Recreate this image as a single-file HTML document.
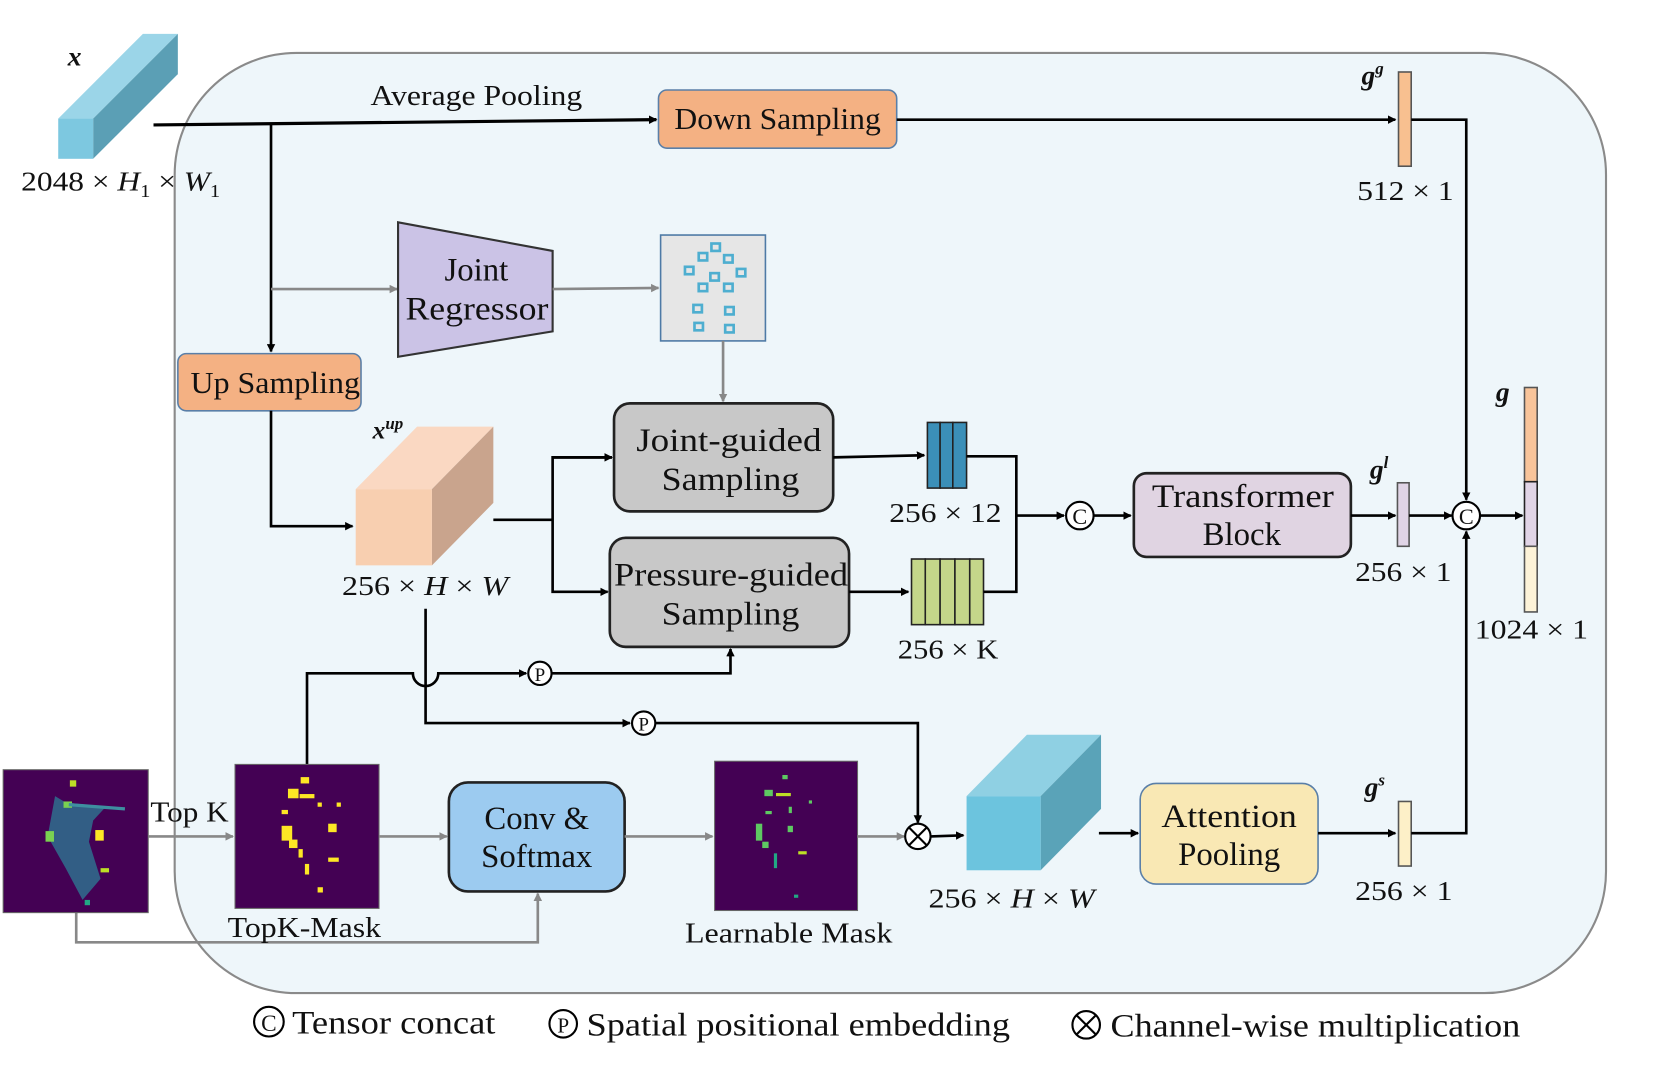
<!DOCTYPE html>
<html><head><meta charset="utf-8"><style>
html,body{margin:0;padding:0;background:#fff;width:1660px;height:1069px;overflow:hidden}
svg{display:block}
text{font-family:"Liberation Serif",serif;fill:#111}
</style></head><body>
<svg width="1660" height="1069" viewBox="0 0 1568 1009.7" preserveAspectRatio="none" xmlns="http://www.w3.org/2000/svg">
<defs>
<marker id="ab" markerWidth="8" markerHeight="8" refX="7" refY="4" orient="auto" markerUnits="userSpaceOnUse"><path d="M0,0 L8,4 L0,8 z" fill="#000"/></marker>
<marker id="ag" markerWidth="8" markerHeight="8" refX="7" refY="4" orient="auto" markerUnits="userSpaceOnUse"><path d="M0,0 L8,4 L0,8 z" fill="#888"/></marker>
</defs>
<rect x="165" y="50" width="1352" height="888" rx="115" fill="#eef6fa" stroke="#8a8a8a" stroke-width="2"/>

<polygon points="55,112 88,112 168,32 135,32" fill="#9bd5e8"/>
<polygon points="88,112 168,32 168,70 88,150" fill="#5b9fb5"/>
<rect x="55" y="112" width="33" height="38" fill="#7dc8e0"/>
<text x="64" y="62" font-size="26" font-weight="bold" font-style="italic">x</text>
<text x="20" y="180" font-size="26" textLength="188" lengthAdjust="spacingAndGlyphs">2048 × <tspan font-style="italic">H</tspan><tspan font-size="17" dy="6">1</tspan><tspan dy="-6"> × </tspan><tspan font-style="italic">W</tspan><tspan font-size="17" dy="6">1</tspan></text>

<line x1="145" y1="118" x2="620" y2="113" stroke="#000" stroke-width="3" marker-end="url(#ab)"/>
<text x="350" y="99" font-size="27" textLength="200" lengthAdjust="spacingAndGlyphs">Average Pooling</text>
<rect x="622" y="85" width="225" height="55" rx="8" fill="#f4b183" stroke="#5a7fa8" stroke-width="1.5"/>
<text x="637" y="122" font-size="29" textLength="195" lengthAdjust="spacingAndGlyphs">Down Sampling</text>
<line x1="847" y1="113" x2="1318" y2="113" stroke="#000" stroke-width="2.5" marker-end="url(#ab)"/>
<rect x="1321" y="68" width="12" height="89" fill="#f8c090" stroke="#555" stroke-width="1.5"/>
<text x="1286" y="80" font-size="26" font-weight="bold" font-style="italic">g<tspan font-size="16" dy="-10">g</tspan></text>
<text x="1282" y="189" font-size="26" textLength="91" lengthAdjust="spacingAndGlyphs">512 × 1</text>
<polyline points="1333,113 1385,113 1385,472" fill="none" stroke="#000" stroke-width="2.5" marker-end="url(#ab)"/>

<line x1="256" y1="118" x2="256" y2="332" stroke="#000" stroke-width="2.5" marker-end="url(#ab)"/>
<line x1="256" y1="273" x2="375" y2="273" stroke="#888" stroke-width="2.5" marker-end="url(#ag)"/>
<polygon points="376,210 522,237 522,313 376,337" fill="#cbc3e6" stroke="#333" stroke-width="2"/>
<text x="450" y="265" font-size="31" text-anchor="middle">Joint</text>
<text x="383" y="302" font-size="31" textLength="135" lengthAdjust="spacingAndGlyphs">Regressor</text>
<line x1="522" y1="273" x2="622" y2="272" stroke="#888" stroke-width="2.5" marker-end="url(#ag)"/>
<rect x="624" y="222" width="99" height="100" fill="#e6e6e6" stroke="#4e7aa6" stroke-width="1.5"/>
<g fill="none" stroke="#4eaed0" stroke-width="2.5">
<rect x="672" y="230" width="8" height="7"/><rect x="660" y="239" width="8" height="7"/><rect x="684" y="241" width="8" height="7"/>
<rect x="647" y="252" width="8" height="7"/><rect x="671" y="258" width="8" height="7"/><rect x="696" y="254" width="8" height="7"/>
<rect x="660" y="268" width="8" height="7"/><rect x="684" y="268" width="8" height="7"/>
<rect x="655" y="288" width="8" height="7"/><rect x="685" y="290" width="8" height="7"/>
<rect x="656" y="305" width="8" height="7"/><rect x="685" y="307" width="8" height="7"/>
</g>
<line x1="683" y1="322" x2="683" y2="379" stroke="#888" stroke-width="2.5" marker-end="url(#ag)"/>

<rect x="168" y="334" width="173" height="54" rx="8" fill="#f4b183" stroke="#5a7fa8" stroke-width="1.5"/>
<text x="180" y="371" font-size="29" textLength="160" lengthAdjust="spacingAndGlyphs">Up Sampling</text>
<polyline points="256,388 256,497 333,497" fill="none" stroke="#000" stroke-width="2.5" marker-end="url(#ab)"/>

<polygon points="336,462 408,462 466,403 394,403" fill="#fad8c2"/>
<polygon points="408,462 466,403 466,475 408,534" fill="#c9a48d"/>
<rect x="336" y="462" width="72" height="72" fill="#f8cfb0"/>
<text x="352" y="414" font-size="24" font-weight="bold" font-style="italic">x<tspan font-size="16" dy="-9">up</tspan></text>
<text x="323" y="562" font-size="26" textLength="157" lengthAdjust="spacingAndGlyphs">256 × <tspan font-style="italic">H</tspan> × <tspan font-style="italic">W</tspan></text>

<line x1="466" y1="491" x2="522" y2="491" stroke="#000" stroke-width="2.5"/>
<polyline points="578,432 522,432 522,559 574,559" fill="none" stroke="#000" stroke-width="2.5" marker-end="url(#ab)"/>
<line x1="522" y1="432" x2="578" y2="432" stroke="#000" stroke-width="2.5" marker-end="url(#ab)"/>
<rect x="580" y="381" width="207" height="102" rx="15" fill="#c8c8c8" stroke="#222" stroke-width="2.5"/>
<text x="601" y="426" font-size="31" textLength="175" lengthAdjust="spacingAndGlyphs">Joint-guided</text>
<text x="625" y="463" font-size="31" textLength="130" lengthAdjust="spacingAndGlyphs">Sampling</text>
<rect x="576" y="508" width="226" height="103" rx="15" fill="#c8c8c8" stroke="#222" stroke-width="2.5"/>
<text x="580" y="553" font-size="31" textLength="221" lengthAdjust="spacingAndGlyphs">Pressure-guided</text>
<text x="625" y="590" font-size="31" textLength="130" lengthAdjust="spacingAndGlyphs">Sampling</text>

<line x1="787" y1="432" x2="873" y2="430" stroke="#000" stroke-width="2.5" marker-end="url(#ab)"/>
<g fill="#3b8fb8" stroke="#222" stroke-width="1.5">
<rect x="876" y="399" width="12" height="62"/><rect x="888" y="399" width="12" height="62"/><rect x="900" y="399" width="13" height="62"/></g>
<text x="840" y="493" font-size="26" textLength="106" lengthAdjust="spacingAndGlyphs">256 × 12</text>
<line x1="802" y1="559" x2="858" y2="559" stroke="#000" stroke-width="2.5" marker-end="url(#ab)"/>
<g fill="#c4d68a" stroke="#222" stroke-width="1.5">
<rect x="861" y="528" width="13" height="62"/><rect x="874" y="528" width="14" height="62"/><rect x="888" y="528" width="14" height="62"/><rect x="902" y="528" width="14" height="62"/><rect x="916" y="528" width="13" height="62"/></g>
<text x="848" y="622" font-size="26" textLength="95" lengthAdjust="spacingAndGlyphs">256 × K</text>
<polyline points="913,431 960,431 960,559 929,559" fill="none" stroke="#000" stroke-width="2.5"/>
<line x1="960" y1="487" x2="1005" y2="487" stroke="#000" stroke-width="2.5" marker-end="url(#ab)"/>
<circle cx="1020" cy="487" r="13" fill="#fff" stroke="#000" stroke-width="2"/>
<text x="1020" y="495" font-size="21" text-anchor="middle">C</text>
<line x1="1033" y1="487" x2="1068" y2="487" stroke="#000" stroke-width="2.5" marker-end="url(#ab)"/>
<rect x="1071" y="447" width="205" height="79" rx="12" fill="#e0d4e2" stroke="#222" stroke-width="2.5"/>
<text x="1088" y="479" font-size="31" textLength="172" lengthAdjust="spacingAndGlyphs">Transformer</text>
<text x="1173" y="515" font-size="31" text-anchor="middle">Block</text>
<line x1="1276" y1="487" x2="1318" y2="487" stroke="#000" stroke-width="2.5" marker-end="url(#ab)"/>
<rect x="1320" y="456" width="11" height="60" fill="#e0d4e6" stroke="#555" stroke-width="1.5"/>
<text x="1294" y="452" font-size="26" font-weight="bold" font-style="italic">g<tspan font-size="16" dy="-10">l</tspan></text>
<text x="1280" y="549" font-size="26" textLength="91" lengthAdjust="spacingAndGlyphs">256 × 1</text>
<line x1="1331" y1="487" x2="1371" y2="487" stroke="#000" stroke-width="2.5" marker-end="url(#ab)"/>
<circle cx="1385" cy="487" r="13" fill="#fff" stroke="#000" stroke-width="2"/>
<text x="1385" y="495" font-size="21" text-anchor="middle">C</text>
<line x1="1398" y1="487" x2="1438" y2="487" stroke="#000" stroke-width="2.5" marker-end="url(#ab)"/>
<rect x="1440" y="366" width="12" height="89" fill="#f8c49a" stroke="#555" stroke-width="1.5"/>
<rect x="1440" y="455" width="12" height="61" fill="#e0d4e6" stroke="#222" stroke-width="1.5"/>
<rect x="1440" y="516" width="12" height="62" fill="#fdf3d8" stroke="#555" stroke-width="1.5"/>
<text x="1413" y="379" font-size="26" font-weight="bold" font-style="italic">g</text>
<text x="1393" y="603" font-size="26" textLength="107" lengthAdjust="spacingAndGlyphs">1024 × 1</text>

<polyline points="402,575 402,683 595,683" fill="none" stroke="#000" stroke-width="2.5" marker-end="url(#ab)"/>
<circle cx="608" cy="683" r="11" fill="#fff" stroke="#000" stroke-width="2"/>
<text x="608" y="690" font-size="18" text-anchor="middle">P</text>
<polyline points="619,683 867,683 867,777" fill="none" stroke="#000" stroke-width="2.5" marker-end="url(#ab)"/>
<path d="M290,722 L290,636 L390,636 A12,12 0 0 0 414,636 L497,636" fill="none" stroke="#000" stroke-width="2.5" marker-end="url(#ab)"/>
<circle cx="510" cy="636" r="11" fill="#fff" stroke="#000" stroke-width="2"/>
<text x="510" y="643" font-size="18" text-anchor="middle">P</text>
<polyline points="521,636 690,636 690,613" fill="none" stroke="#000" stroke-width="2.5" marker-end="url(#ab)"/>

<polyline points="72,862 72,890 508,890 508,844" fill="none" stroke="#888" stroke-width="2.5" marker-end="url(#ag)"/>
<rect x="3" y="727" width="137" height="135" fill="#440154" stroke="#666" stroke-width="1"/>
<g>
<path d="M52,752 L62,758 L100,762 L88,775 L84,795 L95,830 L78,850 L62,820 L45,790 Z" fill="#2f6e8e" opacity="0.85"/>
<rect x="66" y="737" width="6" height="6" fill="#bddf26"/><rect x="60" y="757" width="8" height="6" fill="#7ad151"/>
<rect x="43" y="785" width="8" height="10" fill="#7ad151"/><rect x="90" y="784" width="8" height="10" fill="#fde725"/>
<rect x="95" y="820" width="8" height="4" fill="#bddf26"/><rect x="80" y="850" width="5" height="5" fill="#22a884"/>
<line x1="65" y1="760" x2="118" y2="764" stroke="#3e8fa0" stroke-width="3"/>
</g>
<line x1="140" y1="790" x2="220" y2="790" stroke="#888" stroke-width="2.5" marker-end="url(#ag)"/>
<text x="142" y="776" font-size="27" textLength="74" lengthAdjust="spacingAndGlyphs">Top K</text>
<rect x="222" y="722" width="136" height="136" fill="#440154" stroke="#666" stroke-width="1"/>
<g fill="#fde725">
<rect x="284" y="734" width="8" height="6"/><rect x="272" y="745" width="10" height="9"/><rect x="283" y="750" width="14" height="4"/>
<rect x="266" y="780" width="10" height="14"/><rect x="273" y="793" width="8" height="8"/><rect x="310" y="778" width="8" height="8"/>
<rect x="266" y="765" width="6" height="4"/><rect x="300" y="758" width="4" height="4"/><rect x="318" y="758" width="4" height="4"/>
<rect x="282" y="802" width="4" height="8"/><rect x="288" y="816" width="4" height="10"/><rect x="310" y="810" width="10" height="4"/><rect x="300" y="838" width="5" height="5"/></g>
<line x1="358" y1="790" x2="422" y2="790" stroke="#888" stroke-width="2.5" marker-end="url(#ag)"/>
<rect x="424" y="739" width="166" height="103" rx="18" fill="#9ccbf0" stroke="#222" stroke-width="2.5"/>
<text x="507" y="783" font-size="31" text-anchor="middle">Conv &amp;</text>
<text x="507" y="819" font-size="31" text-anchor="middle">Softmax</text>
<line x1="590" y1="790" x2="673" y2="790" stroke="#888" stroke-width="2.5" marker-end="url(#ag)"/>
<rect x="675" y="719" width="135" height="141" fill="#440154" stroke="#666" stroke-width="1"/>
<g fill="#5ec962">
<rect x="739" y="732" width="5" height="4"/><rect x="722" y="746" width="8" height="6"/><rect x="733" y="749" width="14" height="3" fill="#bddf26"/>
<rect x="723" y="766" width="6" height="3"/><rect x="714" y="778" width="6" height="16"/><rect x="720" y="795" width="6" height="6"/>
<rect x="744" y="780" width="5" height="6"/><rect x="731" y="806" width="3" height="14" fill="#22a884"/><rect x="754" y="804" width="8" height="3" fill="#bddf26"/><rect x="750" y="845" width="4" height="3" fill="#22a884"/>
<rect x="764" y="756" width="3" height="3"/><rect x="745" y="762" width="3" height="6"/></g>
<line x1="810" y1="790" x2="854" y2="790" stroke="#888" stroke-width="2.5" marker-end="url(#ag)"/>
<circle cx="867" cy="790" r="12" fill="#fff" stroke="#000" stroke-width="2"/>
<path d="M859,782 L875,798 M875,782 L859,798" stroke="#000" stroke-width="2"/>
<line x1="879" y1="790" x2="910" y2="789" stroke="#000" stroke-width="2.5" marker-end="url(#ab)"/>
<polygon points="913,752 983,752 1040,694 970,694" fill="#8fd0e3"/>
<polygon points="983,752 1040,694 1040,764 983,822" fill="#5aa3b8"/>
<rect x="913" y="752" width="70" height="70" fill="#6cc4de"/>
<text x="877" y="857" font-size="26" textLength="157" lengthAdjust="spacingAndGlyphs">256 × <tspan font-style="italic">H</tspan> × <tspan font-style="italic">W</tspan></text>
<line x1="1038" y1="787" x2="1075" y2="787" stroke="#000" stroke-width="2.5" marker-end="url(#ab)"/>
<rect x="1077" y="740" width="168" height="95" rx="15" fill="#f9e8b4" stroke="#5a7fa8" stroke-width="1.5"/>
<text x="1097" y="781" font-size="31" textLength="128" lengthAdjust="spacingAndGlyphs">Attention</text>
<text x="1161" y="817" font-size="31" text-anchor="middle">Pooling</text>
<line x1="1245" y1="787" x2="1318" y2="787" stroke="#000" stroke-width="2.5" marker-end="url(#ab)"/>
<rect x="1321" y="757" width="12" height="61" fill="#fdf0c8" stroke="#555" stroke-width="1.5"/>
<text x="1289" y="752" font-size="26" font-weight="bold" font-style="italic">g<tspan font-size="16" dy="-10">s</tspan></text>
<text x="1280" y="850" font-size="26" textLength="92" lengthAdjust="spacingAndGlyphs">256 × 1</text>
<polyline points="1333,787 1385,787 1385,502" fill="none" stroke="#000" stroke-width="2.5" marker-end="url(#ab)"/>

<text x="215" y="885" font-size="27" textLength="145" lengthAdjust="spacingAndGlyphs">TopK-Mask</text>
<text x="647" y="890" font-size="27" textLength="196" lengthAdjust="spacingAndGlyphs">Learnable Mask</text>

<circle cx="254" cy="965" r="14" fill="none" stroke="#000" stroke-width="2"/>
<text x="254" y="974" font-size="22" text-anchor="middle">C</text>
<text x="276" y="976" font-size="31" textLength="192" lengthAdjust="spacingAndGlyphs">Tensor concat</text>
<circle cx="532" cy="967" r="13" fill="none" stroke="#000" stroke-width="2"/>
<text x="532" y="975" font-size="20" text-anchor="middle">P</text>
<text x="554" y="978" font-size="31" textLength="400" lengthAdjust="spacingAndGlyphs">Spatial positional embedding</text>
<circle cx="1026" cy="968" r="13" fill="none" stroke="#000" stroke-width="2"/>
<path d="M1017,959 L1035,977 M1035,959 L1017,977" stroke="#000" stroke-width="2"/>
<text x="1049" y="979" font-size="31" textLength="387" lengthAdjust="spacingAndGlyphs">Channel-wise multiplication</text>
</svg>
</body></html>
